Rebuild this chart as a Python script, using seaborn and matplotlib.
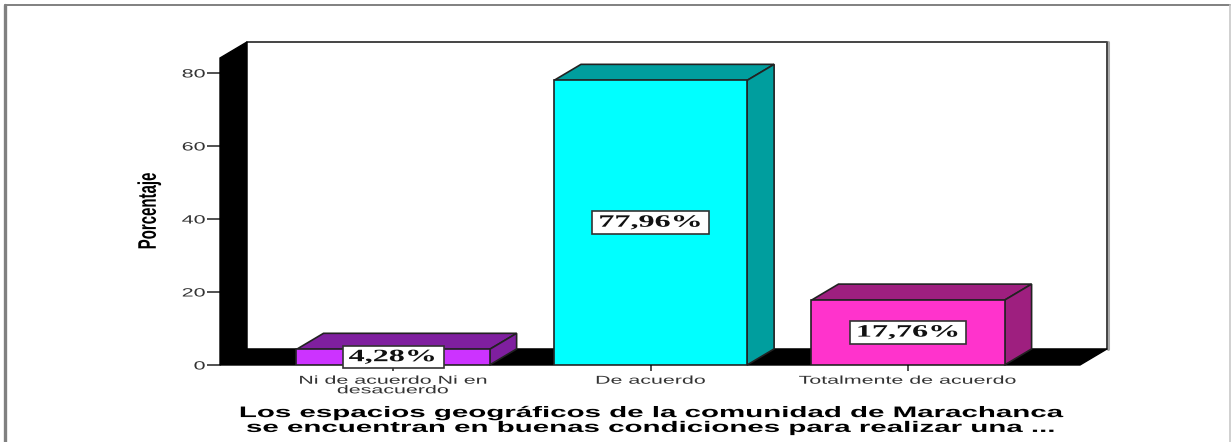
import matplotlib
matplotlib.use("Agg")
import matplotlib.pyplot as plt
from matplotlib.lines import Line2D
from matplotlib.patheffects import AbstractPathEffect
from matplotlib.transforms import Affine2D
import pandas as pd
import seaborn as sns

categories = ["Ni de acuerdo Ni en\ndesacuerdo", "De acuerdo", "Totalmente de acuerdo"]
porcentajes = [4.28, 77.96, 17.76]
front_colors = ["#CC33FF", "#00FFFF", "#FF33CC"]
side_colors = ["#7F1F9F", "#009E9E", "#9E1F7F"]
y_ticks = [0, 20, 40, 60, 80]
x_title = ("Los espacios geográficos de la comunidad de Marachanca\n"
           "se encuentran en buenas condiciones para realizar una ...")

W, H = 1231, 442
BAR_WIDTH = 0.75
# profondeur du faux effet 3D, en unites de donnees
DEPTH_X = 0.105
DEPTH_Y = 4.4
X_MIN, X_MAX = -0.672, 2.668
Y_MAX = 84.1


class StretchX(AbstractPathEffect):
    # l'image d'origine est etiree en largeur, le texte aussi
    def __init__(self, factor, center_px):
        super().__init__()
        self.factor = factor
        self.center_px = center_px

    def draw_path(self, renderer, gc, tpath, affine, rgbFace=None):
        stretch = Affine2D().translate(-self.center_px, 0).scale(self.factor, 1).translate(self.center_px, 0)
        renderer.draw_path(gc, tpath, affine + stretch, rgbFace)


sns.set_theme(style="white")
plt.rcParams["font.family"] = ["Liberation Sans", "DejaVu Sans"]

fig = plt.figure(figsize=(W / 100, H / 100), dpi=100, facecolor="white")
ax = fig.add_axes([220 / W, 1 - 365 / H, 860 / W, 307 / H])

df = pd.DataFrame({"categoria": categories, "porcentaje": porcentajes})
sns.barplot(data=df, x="categoria", y="porcentaje", hue="categoria",
            palette=front_colors, width=BAR_WIDTH, dodge=False, legend=False,
            edgecolor="#222222", linewidth=1.2, saturation=1, zorder=5, ax=ax)

ax.set_xlim(X_MIN, X_MAX)
ax.set_ylim(0, Y_MAX)
sns.despine(ax=ax, left=True, bottom=True, top=True, right=True)

# Mur du fond, mur gauche et sol
back_left = X_MIN + DEPTH_X
back_right = X_MAX + DEPTH_X
back_top = Y_MAX + DEPTH_Y
ax.plot([back_right + 0.003, back_right + 0.003], [DEPTH_Y, back_top],
        color="#AAAAAA", lw=2.2, clip_on=False, zorder=1.5)
ax.plot([back_left, back_right, back_right], [back_top, back_top, DEPTH_Y],
        color="#444444", lw=1.4, clip_on=False, zorder=2)
ax.fill([X_MIN, back_left, back_left, X_MIN],
        [Y_MAX, back_top, DEPTH_Y, 0],
        color="black", clip_on=False, zorder=3)
ax.fill([X_MIN, back_left, back_right, X_MAX],
        [0, DEPTH_Y, DEPTH_Y, 0],
        color="black", clip_on=False, zorder=3)

# Faces superieure et laterale de chaque barre
for i, value in enumerate(porcentajes):
    left = i - BAR_WIDTH / 2
    right = i + BAR_WIDTH / 2
    ax.fill([left, left + DEPTH_X, right + DEPTH_X, right],
            [value, value + DEPTH_Y, value + DEPTH_Y, value],
            facecolor=side_colors[i], edgecolor="#222222", lw=1.2,
            clip_on=False, zorder=4)
    ax.fill([right, right + DEPTH_X, right + DEPTH_X, right],
            [0, DEPTH_Y, value + DEPTH_Y, value],
            facecolor=side_colors[i], edgecolor="#222222", lw=1.2,
            clip_on=False, zorder=4)

ax.set_yticks(y_ticks)
ax.tick_params(axis="y", length=9.4, width=1.2, color="#333333", left=True,
               labelsize=8.6, labelcolor="#333333", pad=1)
ax.set_xticks(range(len(categories)))
ax.set_xticklabels(categories, linespacing=0.95)
ax.tick_params(axis="x", length=4.5, width=1.2, color="#333333", bottom=True,
               labelsize=8.2, labelcolor="#333333", pad=3.2)
ax.set_ylabel("")
ax.set_xlabel("")

for tick_label in ax.get_yticklabels():
    tick_label.set_path_effects([StretchX(1.8, 205.6)])
for i, tick_label in enumerate(ax.get_xticklabels()):
    center = ax.transData.transform((i, 0))[0]
    tick_label.set_path_effects([StretchX(1.88, center)])

# Etiquettes au centre des barres
for i, (container, value) in enumerate(zip(ax.containers, porcentajes)):
    label = f"{value:.2f}".replace(".", ",") + "%"
    texts = ax.bar_label(container, labels=[label], label_type="center",
                         family="Liberation Serif", fontweight="bold", fontsize=12.5,
                         color="#111111", zorder=7,
                         bbox=dict(boxstyle="square,pad=0.19", facecolor="white",
                                   edgecolor="#333333", linewidth=1.2))
    center = ax.transData.transform((i, 0))[0]
    for text in texts:
        text.set_path_effects([StretchX(1.85, center)])
        text.get_bbox_patch().set_path_effects([StretchX(1.85, center)])

fig.text(149 / W, 1 - 211 / H, "Porcentaje", rotation=90, ha="center", va="center",
         fontweight="bold", fontsize=10.8, color="black",
         path_effects=[StretchX(1.7, 149)])
fig.text(652 / W, 1 - 420.5 / H, x_title, ha="center", va="center",
         fontweight="bold", fontsize=11, linespacing=1.08, color="black",
         path_effects=[StretchX(1.93, 652)])

# Cadre exterieur de la capture
fig.add_artist(Line2D([5 / W, 5 / W], [0, 1 - 5 / H], color="#808080", lw=2.4))
fig.add_artist(Line2D([5 / W, 1230 / W], [1 - 5 / H, 1 - 5 / H], color="#808080", lw=1.4))
fig.add_artist(Line2D([1230 / W, 1230 / W], [0, 1 - 5 / H], color="#C8C8C8", lw=1.2))

fig.savefig("out.png", dpi=100, facecolor="white")
